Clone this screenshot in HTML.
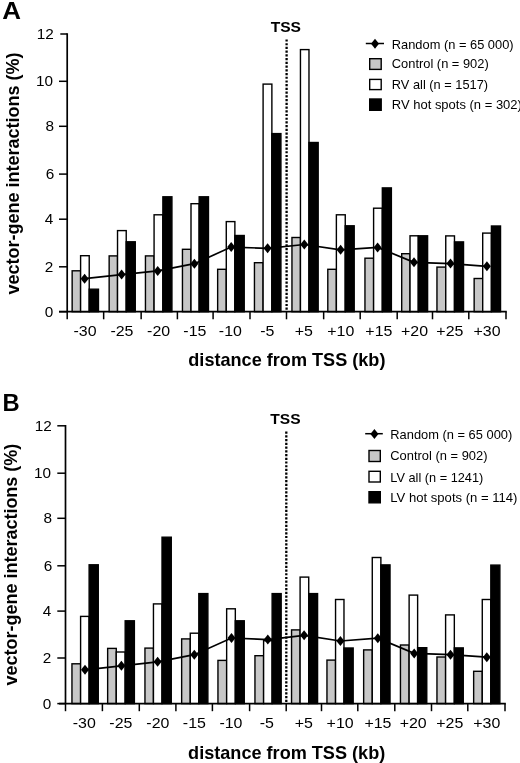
<!DOCTYPE html>
<html><head><meta charset="utf-8"><style>
html,body{margin:0;padding:0;background:#fff;}
body{width:520px;height:763px;overflow:hidden;}
svg{display:block;filter:grayscale(1) blur(0.35px);}
text{font-family:"Liberation Sans",sans-serif;fill:#000;}
</style></head><body>
<svg width="520" height="763" viewBox="0 0 520 763">
<rect width="520" height="763" fill="#fff"/>
<rect x="72.15" y="270.8" width="8.45" height="40.9" fill="#c7c7c7" stroke="#000" stroke-width="1.4"/>
<rect x="80.6" y="255.7" width="8.625" height="56" fill="#fff" stroke="#000" stroke-width="1.4"/>
<rect x="89.225" y="289.2" width="9.25" height="22.5" fill="#000" stroke="#000" stroke-width="1.4"/>
<rect x="109.15" y="255.9" width="8.375" height="55.8" fill="#c7c7c7" stroke="#000" stroke-width="1.4"/>
<rect x="117.525" y="230.6" width="8.7" height="81.1" fill="#fff" stroke="#000" stroke-width="1.4"/>
<rect x="126.225" y="241.8" width="9.05" height="69.9" fill="#000" stroke="#000" stroke-width="1.4"/>
<rect x="145.45" y="255.9" width="8.625" height="55.8" fill="#c7c7c7" stroke="#000" stroke-width="1.4"/>
<rect x="154.075" y="214.8" width="8.8" height="96.9" fill="#fff" stroke="#000" stroke-width="1.4"/>
<rect x="162.875" y="196.8" width="9.05" height="114.9" fill="#000" stroke="#000" stroke-width="1.4"/>
<rect x="182.45" y="249.3" width="8.55" height="62.4" fill="#c7c7c7" stroke="#000" stroke-width="1.4"/>
<rect x="191" y="203.7" width="8.175" height="108" fill="#fff" stroke="#000" stroke-width="1.4"/>
<rect x="199.175" y="196.8" width="9.3" height="114.9" fill="#000" stroke="#000" stroke-width="1.4"/>
<rect x="217.65" y="269.3" width="8.625" height="42.4" fill="#c7c7c7" stroke="#000" stroke-width="1.4"/>
<rect x="226.275" y="221.6" width="8.6" height="90.1" fill="#fff" stroke="#000" stroke-width="1.4"/>
<rect x="234.875" y="235.5" width="9.35" height="76.2" fill="#000" stroke="#000" stroke-width="1.4"/>
<rect x="254.45" y="262.7" width="8.65" height="49" fill="#c7c7c7" stroke="#000" stroke-width="1.4"/>
<rect x="263.1" y="84.1" width="8.775" height="227.6" fill="#fff" stroke="#000" stroke-width="1.4"/>
<rect x="271.875" y="133.6" width="9.05" height="178.1" fill="#000" stroke="#000" stroke-width="1.4"/>
<rect x="291.95" y="237.5" width="8.5" height="74.2" fill="#c7c7c7" stroke="#000" stroke-width="1.4"/>
<rect x="300.45" y="49.6" width="8.525" height="262.1" fill="#fff" stroke="#000" stroke-width="1.4"/>
<rect x="308.975" y="142.5" width="9.2" height="169.2" fill="#000" stroke="#000" stroke-width="1.4"/>
<rect x="327.8" y="269.3" width="8.575" height="42.4" fill="#c7c7c7" stroke="#000" stroke-width="1.4"/>
<rect x="336.375" y="214.8" width="8.875" height="96.9" fill="#fff" stroke="#000" stroke-width="1.4"/>
<rect x="345.25" y="225.8" width="8.95" height="85.9" fill="#000" stroke="#000" stroke-width="1.4"/>
<rect x="364.95" y="258.2" width="8.65" height="53.5" fill="#c7c7c7" stroke="#000" stroke-width="1.4"/>
<rect x="373.6" y="208.2" width="8.725" height="103.5" fill="#fff" stroke="#000" stroke-width="1.4"/>
<rect x="382.325" y="187.9" width="9.05" height="123.8" fill="#000" stroke="#000" stroke-width="1.4"/>
<rect x="401.7" y="253.7" width="8.325" height="58" fill="#c7c7c7" stroke="#000" stroke-width="1.4"/>
<rect x="410.025" y="235.8" width="8.275" height="75.9" fill="#fff" stroke="#000" stroke-width="1.4"/>
<rect x="418.3" y="235.8" width="9.3" height="75.9" fill="#000" stroke="#000" stroke-width="1.4"/>
<rect x="436.95" y="267.1" width="8.8" height="44.6" fill="#c7c7c7" stroke="#000" stroke-width="1.4"/>
<rect x="445.75" y="235.9" width="8.725" height="75.8" fill="#fff" stroke="#000" stroke-width="1.4"/>
<rect x="454.475" y="241.9" width="9.05" height="69.8" fill="#000" stroke="#000" stroke-width="1.4"/>
<rect x="474.15" y="278.5" width="8.55" height="33.2" fill="#c7c7c7" stroke="#000" stroke-width="1.4"/>
<rect x="482.7" y="233.1" width="8.725" height="78.6" fill="#fff" stroke="#000" stroke-width="1.4"/>
<rect x="491.425" y="226" width="9.1" height="85.7" fill="#000" stroke="#000" stroke-width="1.4"/>
<line x1="286.6" y1="39.4" x2="286.6" y2="309.8" stroke="#000" stroke-width="2.3" stroke-dasharray="2.2 1.525"/>
<polyline points="84.6,278.7 121.6,274.6 157.7,270.9 194.4,263.7 231.2,247.1 267.6,248.3 304.3,244.5 340.6,249.8 377.6,247.4 414,262.3 450.5,263.6 486.9,266.3" fill="none" stroke="#000" stroke-width="1.7"/>
<path d="M84.6 273.7L88.6 278.7L84.6 283.7L80.6 278.7Z" fill="#000"/>
<path d="M121.6 269.6L125.6 274.6L121.6 279.6L117.6 274.6Z" fill="#000"/>
<path d="M157.7 265.9L161.7 270.9L157.7 275.9L153.7 270.9Z" fill="#000"/>
<path d="M194.4 258.7L198.4 263.7L194.4 268.7L190.4 263.7Z" fill="#000"/>
<path d="M231.2 242.1L235.2 247.1L231.2 252.1L227.2 247.1Z" fill="#000"/>
<path d="M267.6 243.3L271.6 248.3L267.6 253.3L263.6 248.3Z" fill="#000"/>
<path d="M304.3 239.5L308.3 244.5L304.3 249.5L300.3 244.5Z" fill="#000"/>
<path d="M340.6 244.8L344.6 249.8L340.6 254.8L336.6 249.8Z" fill="#000"/>
<path d="M377.6 242.4L381.6 247.4L377.6 252.4L373.6 247.4Z" fill="#000"/>
<path d="M414 257.3L418 262.3L414 267.3L410 262.3Z" fill="#000"/>
<path d="M450.5 258.6L454.5 263.6L450.5 268.6L446.5 263.6Z" fill="#000"/>
<path d="M486.9 261.3L490.9 266.3L486.9 271.3L482.9 266.3Z" fill="#000"/>
<line x1="67.2" y1="33.2" x2="67.2" y2="311.7" stroke="#000" stroke-width="1.7"/>
<line x1="59" y1="311.7" x2="506.8" y2="311.7" stroke="#000" stroke-width="1.7"/>
<line x1="60.3" y1="34" x2="67.2" y2="34" stroke="#000" stroke-width="1.5"/>
<text transform="translate(53.7 38.9) scale(0.99 1)" font-size="15.5" text-anchor="end">12</text>
<line x1="59" y1="81.3" x2="67.2" y2="81.3" stroke="#000" stroke-width="1.5"/>
<text transform="translate(53 86.2) scale(0.99 1)" font-size="15.5" text-anchor="end">10</text>
<line x1="59" y1="126.3" x2="67.2" y2="126.3" stroke="#000" stroke-width="1.5"/>
<text transform="translate(54.1 131.2) scale(0.99 1)" font-size="15.5" text-anchor="end">8</text>
<line x1="59" y1="174.1" x2="67.2" y2="174.1" stroke="#000" stroke-width="1.5"/>
<text transform="translate(54.3 179) scale(0.99 1)" font-size="15.5" text-anchor="end">6</text>
<line x1="59" y1="219.2" x2="67.2" y2="219.2" stroke="#000" stroke-width="1.5"/>
<text transform="translate(53.3 224.1) scale(0.99 1)" font-size="15.5" text-anchor="end">4</text>
<line x1="59" y1="266.8" x2="67.2" y2="266.8" stroke="#000" stroke-width="1.5"/>
<text transform="translate(53.3 271.7) scale(0.99 1)" font-size="15.5" text-anchor="end">2</text>
<line x1="59" y1="311.7" x2="67.2" y2="311.7" stroke="#000" stroke-width="1.5"/>
<text transform="translate(53.3 316.6) scale(0.99 1)" font-size="15.5" text-anchor="end">0</text>
<line x1="67.2" y1="311.7" x2="67.2" y2="319.3" stroke="#000" stroke-width="1.5"/>
<line x1="103.65" y1="311.7" x2="103.65" y2="319.3" stroke="#000" stroke-width="1.5"/>
<line x1="141.15" y1="311.7" x2="141.15" y2="319.3" stroke="#000" stroke-width="1.5"/>
<line x1="177.4" y1="311.7" x2="177.4" y2="319.3" stroke="#000" stroke-width="1.5"/>
<line x1="213.1" y1="311.7" x2="213.1" y2="319.3" stroke="#000" stroke-width="1.5"/>
<line x1="250" y1="311.7" x2="250" y2="319.3" stroke="#000" stroke-width="1.5"/>
<line x1="286.5" y1="311.7" x2="286.5" y2="319.3" stroke="#000" stroke-width="1.5"/>
<line x1="323.65" y1="311.7" x2="323.65" y2="319.3" stroke="#000" stroke-width="1.5"/>
<line x1="360.2" y1="311.7" x2="360.2" y2="319.3" stroke="#000" stroke-width="1.5"/>
<line x1="397.2" y1="311.7" x2="397.2" y2="319.3" stroke="#000" stroke-width="1.5"/>
<line x1="432.5" y1="311.7" x2="432.5" y2="319.3" stroke="#000" stroke-width="1.5"/>
<line x1="468.8" y1="311.7" x2="468.8" y2="319.3" stroke="#000" stroke-width="1.5"/>
<line x1="506" y1="311.7" x2="506" y2="319.3" stroke="#000" stroke-width="1.5"/>
<text transform="translate(85.05 336.1) scale(1.03 1)" font-size="15.5" text-anchor="middle">-30</text>
<text transform="translate(121.95 336.1) scale(1.03 1)" font-size="15.5" text-anchor="middle">-25</text>
<text transform="translate(158.65 336.1) scale(1.03 1)" font-size="15.5" text-anchor="middle">-20</text>
<text transform="translate(194.85 336.1) scale(1.03 1)" font-size="15.5" text-anchor="middle">-15</text>
<text transform="translate(230.35 336.1) scale(1.03 1)" font-size="15.5" text-anchor="middle">-10</text>
<text transform="translate(267.3 336.1) scale(1.03 1)" font-size="15.5" text-anchor="middle">-5</text>
<text transform="translate(303.85 336.1) scale(1.03 1)" font-size="15.5" text-anchor="middle">+5</text>
<text transform="translate(340.8 336.1) scale(1.03 1)" font-size="15.5" text-anchor="middle">+10</text>
<text transform="translate(378.85 336.1) scale(1.03 1)" font-size="15.5" text-anchor="middle">+15</text>
<text transform="translate(414.5 336.1) scale(1.03 1)" font-size="15.5" text-anchor="middle">+20</text>
<text transform="translate(449.85 336.1) scale(1.03 1)" font-size="15.5" text-anchor="middle">+25</text>
<text transform="translate(487 336.1) scale(1.03 1)" font-size="15.5" text-anchor="middle">+30</text>
<text transform="translate(188.3 366.1) scale(1.035 1)" font-size="17.5" font-weight="bold" text-anchor="start">distance from TSS (kb)</text>
<text transform="translate(18.6 173.5) rotate(-90) scale(1 1.06)" font-size="18" font-weight="bold" text-anchor="middle">vector-gene interactions (%)</text>
<text transform="translate(2.3 19.4) scale(1.06 1)" font-size="24.5" font-weight="bold" text-anchor="start">A</text>
<text transform="translate(285.8 32.3) scale(1.04 1)" font-size="15" font-weight="bold" text-anchor="middle">TSS</text>
<line x1="365.8" y1="43.5" x2="384" y2="43.5" stroke="#000" stroke-width="1.5"/>
<path d="M375 38.8L379 43.8L375 48.8L371 43.8Z" fill="#000"/>
<rect x="369.7" y="58.7" width="11.5" height="10.7" fill="#c7c7c7" stroke="#000" stroke-width="1.4"/>
<rect x="369.7" y="79.4" width="11.5" height="10.2" fill="#fff" stroke="#000" stroke-width="1.4"/>
<rect x="369.7" y="99" width="11.5" height="11.3" fill="#000" stroke="#000" stroke-width="1.4"/>
<text transform="translate(391.8 48.6) scale(1.072 1)" font-size="12" text-anchor="start">Random (n = 65 000)</text>
<text transform="translate(391.8 68.2) scale(1.073 1)" font-size="12" text-anchor="start">Control (n = 902)</text>
<text transform="translate(391.8 88.8) scale(1.068 1)" font-size="12" text-anchor="start">RV all (n = 1517)</text>
<text transform="translate(391.8 109.2) scale(1.083 1)" font-size="12" text-anchor="start">RV hot spots (n = 302)</text>
<rect x="71.95" y="663.8" width="8.65" height="39.8" fill="#c7c7c7" stroke="#000" stroke-width="1.4"/>
<rect x="80.6" y="616.4" width="8.525" height="87.2" fill="#fff" stroke="#000" stroke-width="1.4"/>
<rect x="89.125" y="564.8" width="9.15" height="138.8" fill="#000" stroke="#000" stroke-width="1.4"/>
<rect x="107.65" y="648.4" width="8.625" height="55.2" fill="#c7c7c7" stroke="#000" stroke-width="1.4"/>
<rect x="116.275" y="652" width="8.9" height="51.6" fill="#fff" stroke="#000" stroke-width="1.4"/>
<rect x="125.175" y="620.8" width="9.2" height="82.8" fill="#000" stroke="#000" stroke-width="1.4"/>
<rect x="144.95" y="648.1" width="8.5" height="55.5" fill="#c7c7c7" stroke="#000" stroke-width="1.4"/>
<rect x="153.45" y="603.9" width="8.575" height="99.7" fill="#fff" stroke="#000" stroke-width="1.4"/>
<rect x="162.025" y="537.2" width="9.25" height="166.4" fill="#000" stroke="#000" stroke-width="1.4"/>
<rect x="181.65" y="638.9" width="8.625" height="64.7" fill="#c7c7c7" stroke="#000" stroke-width="1.4"/>
<rect x="190.275" y="633.2" width="8.55" height="70.4" fill="#fff" stroke="#000" stroke-width="1.4"/>
<rect x="198.825" y="593.6" width="9.05" height="110" fill="#000" stroke="#000" stroke-width="1.4"/>
<rect x="217.95" y="660.4" width="8.7" height="43.2" fill="#c7c7c7" stroke="#000" stroke-width="1.4"/>
<rect x="226.65" y="608.8" width="8.675" height="94.8" fill="#fff" stroke="#000" stroke-width="1.4"/>
<rect x="235.325" y="620.8" width="8.95" height="82.8" fill="#000" stroke="#000" stroke-width="1.4"/>
<rect x="254.95" y="655.7" width="8.65" height="47.9" fill="#c7c7c7" stroke="#000" stroke-width="1.4"/>
<rect x="263.6" y="640.7" width="8.525" height="62.9" fill="#fff" stroke="#000" stroke-width="1.4"/>
<rect x="272.125" y="593.6" width="9.05" height="110" fill="#000" stroke="#000" stroke-width="1.4"/>
<rect x="291.55" y="629.9" width="8.55" height="73.7" fill="#c7c7c7" stroke="#000" stroke-width="1.4"/>
<rect x="300.1" y="577.1" width="8.625" height="126.5" fill="#fff" stroke="#000" stroke-width="1.4"/>
<rect x="308.725" y="593.6" width="8.85" height="110" fill="#000" stroke="#000" stroke-width="1.4"/>
<rect x="326.95" y="660.1" width="8.6" height="43.5" fill="#c7c7c7" stroke="#000" stroke-width="1.4"/>
<rect x="335.55" y="599.5" width="8.425" height="104.1" fill="#fff" stroke="#000" stroke-width="1.4"/>
<rect x="343.975" y="648" width="9.2" height="55.6" fill="#000" stroke="#000" stroke-width="1.4"/>
<rect x="363.65" y="649.9" width="8.625" height="53.7" fill="#c7c7c7" stroke="#000" stroke-width="1.4"/>
<rect x="372.275" y="557.5" width="8.6" height="146.1" fill="#fff" stroke="#000" stroke-width="1.4"/>
<rect x="380.875" y="564.9" width="9.15" height="138.7" fill="#000" stroke="#000" stroke-width="1.4"/>
<rect x="400.45" y="645" width="8.675" height="58.6" fill="#c7c7c7" stroke="#000" stroke-width="1.4"/>
<rect x="409.125" y="595.1" width="8.5" height="108.5" fill="#fff" stroke="#000" stroke-width="1.4"/>
<rect x="417.625" y="647.7" width="9.15" height="55.9" fill="#000" stroke="#000" stroke-width="1.4"/>
<rect x="436.95" y="657" width="8.65" height="46.6" fill="#c7c7c7" stroke="#000" stroke-width="1.4"/>
<rect x="445.6" y="614.9" width="8.725" height="88.7" fill="#fff" stroke="#000" stroke-width="1.4"/>
<rect x="454.325" y="647.9" width="8.95" height="55.7" fill="#000" stroke="#000" stroke-width="1.4"/>
<rect x="473.65" y="671.3" width="8.625" height="32.3" fill="#c7c7c7" stroke="#000" stroke-width="1.4"/>
<rect x="482.275" y="599.5" width="8.55" height="104.1" fill="#fff" stroke="#000" stroke-width="1.4"/>
<rect x="490.825" y="565.1" width="9.05" height="138.5" fill="#000" stroke="#000" stroke-width="1.4"/>
<line x1="286.3" y1="431.6" x2="286.3" y2="702" stroke="#000" stroke-width="2.3" stroke-dasharray="2.2 1.525"/>
<polyline points="85,669.8 121.4,665.8 157.6,661.8 194.3,654.7 231.5,638 267.8,639.6 304.1,635.3 340.4,641 377.8,638.2 414.2,653.4 450.5,654.7 486.8,657.2" fill="none" stroke="#000" stroke-width="1.7"/>
<path d="M85 664.8L89 669.8L85 674.8L81 669.8Z" fill="#000"/>
<path d="M121.4 660.8L125.4 665.8L121.4 670.8L117.4 665.8Z" fill="#000"/>
<path d="M157.6 656.8L161.6 661.8L157.6 666.8L153.6 661.8Z" fill="#000"/>
<path d="M194.3 649.7L198.3 654.7L194.3 659.7L190.3 654.7Z" fill="#000"/>
<path d="M231.5 633L235.5 638L231.5 643L227.5 638Z" fill="#000"/>
<path d="M267.8 634.6L271.8 639.6L267.8 644.6L263.8 639.6Z" fill="#000"/>
<path d="M304.1 630.3L308.1 635.3L304.1 640.3L300.1 635.3Z" fill="#000"/>
<path d="M340.4 636L344.4 641L340.4 646L336.4 641Z" fill="#000"/>
<path d="M377.8 633.2L381.8 638.2L377.8 643.2L373.8 638.2Z" fill="#000"/>
<path d="M414.2 648.4L418.2 653.4L414.2 658.4L410.2 653.4Z" fill="#000"/>
<path d="M450.5 649.7L454.5 654.7L450.5 659.7L446.5 654.7Z" fill="#000"/>
<path d="M486.8 652.2L490.8 657.2L486.8 662.2L482.8 657.2Z" fill="#000"/>
<line x1="65.5" y1="425" x2="65.5" y2="703.6" stroke="#000" stroke-width="1.7"/>
<line x1="59" y1="703.6" x2="505.8" y2="703.6" stroke="#000" stroke-width="1.7"/>
<line x1="57.3" y1="425.8" x2="65.5" y2="425.8" stroke="#000" stroke-width="1.5"/>
<text transform="translate(51.7 430.7) scale(0.99 1)" font-size="15.5" text-anchor="end">12</text>
<line x1="57.3" y1="473.2" x2="65.5" y2="473.2" stroke="#000" stroke-width="1.5"/>
<text transform="translate(51 478.1) scale(0.99 1)" font-size="15.5" text-anchor="end">10</text>
<line x1="57.3" y1="518.3" x2="65.5" y2="518.3" stroke="#000" stroke-width="1.5"/>
<text transform="translate(52.1 523.2) scale(0.99 1)" font-size="15.5" text-anchor="end">8</text>
<line x1="57.3" y1="565.8" x2="65.5" y2="565.8" stroke="#000" stroke-width="1.5"/>
<text transform="translate(52.3 570.7) scale(0.99 1)" font-size="15.5" text-anchor="end">6</text>
<line x1="57.3" y1="611.1" x2="65.5" y2="611.1" stroke="#000" stroke-width="1.5"/>
<text transform="translate(51.3 616) scale(0.99 1)" font-size="15.5" text-anchor="end">4</text>
<line x1="57.3" y1="658" x2="65.5" y2="658" stroke="#000" stroke-width="1.5"/>
<text transform="translate(51.3 662.9) scale(0.99 1)" font-size="15.5" text-anchor="end">2</text>
<line x1="57.3" y1="703.6" x2="65.5" y2="703.6" stroke="#000" stroke-width="1.5"/>
<text transform="translate(51.3 708.5) scale(0.99 1)" font-size="15.5" text-anchor="end">0</text>
<line x1="65.5" y1="703.6" x2="65.5" y2="711.2" stroke="#000" stroke-width="1.5"/>
<line x1="102.4" y1="703.6" x2="102.4" y2="711.2" stroke="#000" stroke-width="1.5"/>
<line x1="139.3" y1="703.6" x2="139.3" y2="711.2" stroke="#000" stroke-width="1.5"/>
<line x1="175.9" y1="703.6" x2="175.9" y2="711.2" stroke="#000" stroke-width="1.5"/>
<line x1="212.4" y1="703.6" x2="212.4" y2="711.2" stroke="#000" stroke-width="1.5"/>
<line x1="249.6" y1="703.6" x2="249.6" y2="711.2" stroke="#000" stroke-width="1.5"/>
<line x1="286.2" y1="703.6" x2="286.2" y2="711.2" stroke="#000" stroke-width="1.5"/>
<line x1="321.5" y1="703.6" x2="321.5" y2="711.2" stroke="#000" stroke-width="1.5"/>
<line x1="357.8" y1="703.6" x2="357.8" y2="711.2" stroke="#000" stroke-width="1.5"/>
<line x1="394.8" y1="703.6" x2="394.8" y2="711.2" stroke="#000" stroke-width="1.5"/>
<line x1="431.5" y1="703.6" x2="431.5" y2="711.2" stroke="#000" stroke-width="1.5"/>
<line x1="467.8" y1="703.6" x2="467.8" y2="711.2" stroke="#000" stroke-width="1.5"/>
<line x1="505" y1="703.6" x2="505" y2="711.2" stroke="#000" stroke-width="1.5"/>
<text transform="translate(84.25 728.1) scale(1.03 1)" font-size="15.5" text-anchor="middle">-30</text>
<text transform="translate(120.9 728.1) scale(1.03 1)" font-size="15.5" text-anchor="middle">-25</text>
<text transform="translate(157.85 728.1) scale(1.03 1)" font-size="15.5" text-anchor="middle">-20</text>
<text transform="translate(194.4 728.1) scale(1.03 1)" font-size="15.5" text-anchor="middle">-15</text>
<text transform="translate(230.95 728.1) scale(1.03 1)" font-size="15.5" text-anchor="middle">-10</text>
<text transform="translate(266.75 728.1) scale(1.03 1)" font-size="15.5" text-anchor="middle">-5</text>
<text transform="translate(303.85 728.1) scale(1.03 1)" font-size="15.5" text-anchor="middle">+5</text>
<text transform="translate(340.1 728.1) scale(1.03 1)" font-size="15.5" text-anchor="middle">+10</text>
<text transform="translate(377.95 728.1) scale(1.03 1)" font-size="15.5" text-anchor="middle">+15</text>
<text transform="translate(413.15 728.1) scale(1.03 1)" font-size="15.5" text-anchor="middle">+20</text>
<text transform="translate(449.8 728.1) scale(1.03 1)" font-size="15.5" text-anchor="middle">+25</text>
<text transform="translate(486.75 728.1) scale(1.03 1)" font-size="15.5" text-anchor="middle">+30</text>
<text transform="translate(188.1 758.6) scale(1.035 1)" font-size="17.5" font-weight="bold" text-anchor="start">distance from TSS (kb)</text>
<text transform="translate(16.6 564.6) rotate(-90) scale(1 1.06)" font-size="18" font-weight="bold" text-anchor="middle">vector-gene interactions (%)</text>
<text transform="translate(2.4 411) scale(0.97 1)" font-size="24.5" font-weight="bold" text-anchor="start">B</text>
<text transform="translate(285.5 424.2) scale(1.04 1)" font-size="15" font-weight="bold" text-anchor="middle">TSS</text>
<line x1="365.2" y1="433.7" x2="382.8" y2="433.7" stroke="#000" stroke-width="1.5"/>
<path d="M374.4 428.9L378.4 433.9L374.4 438.9L370.4 433.9Z" fill="#000"/>
<rect x="369" y="450.5" width="11.3" height="11" fill="#c7c7c7" stroke="#000" stroke-width="1.4"/>
<rect x="369" y="471.3" width="11.3" height="10.7" fill="#fff" stroke="#000" stroke-width="1.4"/>
<rect x="369" y="491.7" width="11.3" height="11.1" fill="#000" stroke="#000" stroke-width="1.4"/>
<text transform="translate(390.3 439.3) scale(1.073 1)" font-size="12" text-anchor="start">Random (n = 65 000)</text>
<text transform="translate(390.3 460.1) scale(1.076 1)" font-size="12" text-anchor="start">Control (n = 902)</text>
<text transform="translate(390.3 481.6) scale(1.064 1)" font-size="12" text-anchor="start">LV all (n = 1241)</text>
<text transform="translate(390.3 501.9) scale(1.092 1)" font-size="12" text-anchor="start">LV hot spots (n = 114)</text>
</svg>
</body></html>
